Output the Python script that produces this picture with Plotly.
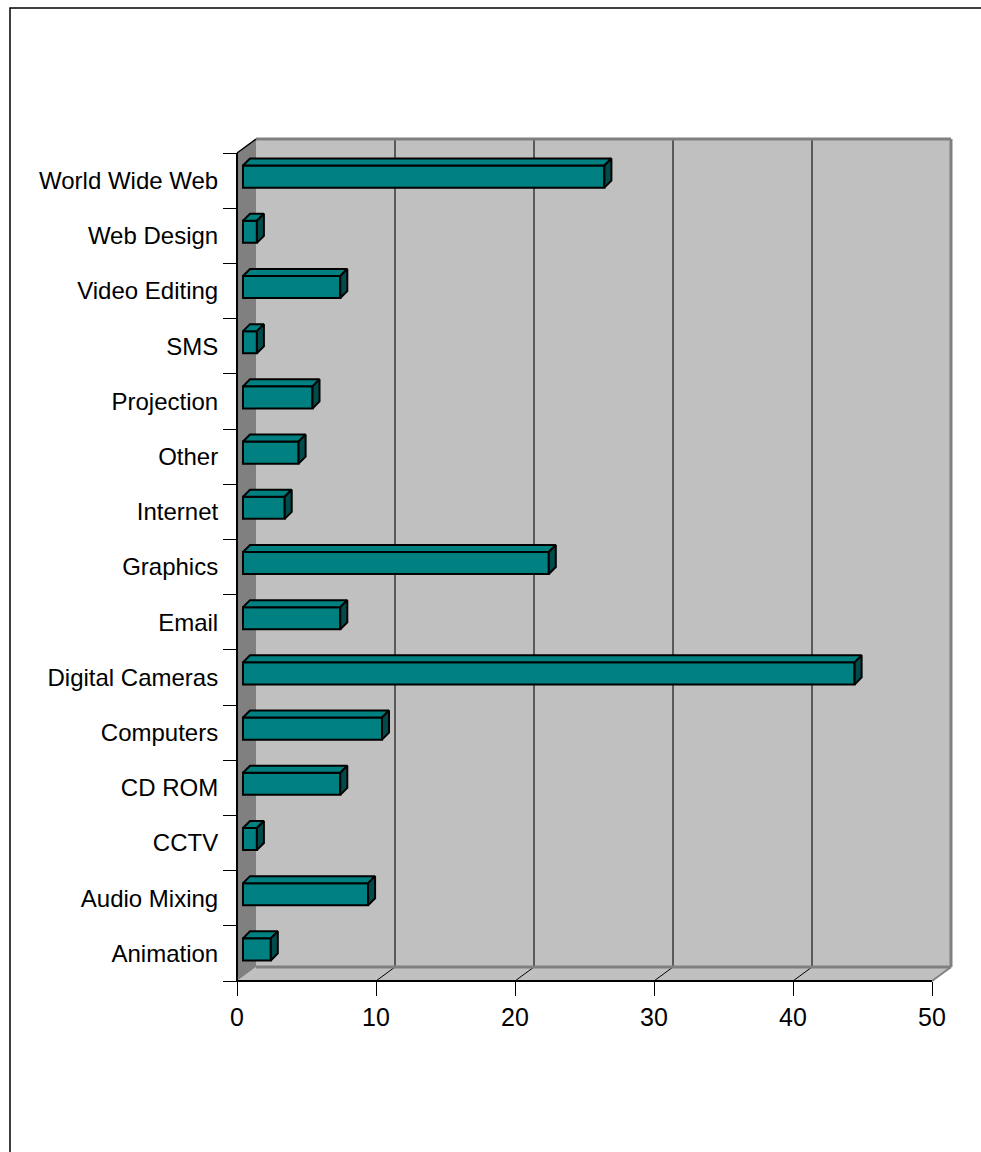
import plotly.graph_objects as go

# ---- data -------------------------------------------------------------
categories = [
    "Animation", "Audio Mixing", "CCTV", "CD ROM", "Computers",
    "Digital Cameras", "Email", "Graphics", "Internet", "Other",
    "Projection", "SMS", "Video Editing", "Web Design", "World Wide Web",
]
counts = [2, 9, 1, 7, 10, 44, 7, 22, 3, 4, 5, 1, 7, 1, 26]
x_ticks = [0, 10, 20, 30, 40, 50]

# ---- page / frame geometry (pixels) -----------------------------------
W, H = 981, 1152
X0, XS = 237, 13.9        # pixel of value 0 on front plane, pixels per unit
Y0, YS = 981, 55.2        # pixel of the floor front edge, pixels per category
DEPTH_PX = (19, 14)       # back wall offset (right, up)
BAR_FRONT_PX = (6, 4)     # bar front plane offset
BAR_DEPTH_PX = (7, 7)     # bar thickness in depth
BAR_WIDTH = 0.4           # fraction of a category band (gap width 150%)

XMAX = x_ticks[-1]
NCAT = len(categories)

xrange_ = [(0 - X0) / XS, (W - X0) / XS]
yrange_ = [(Y0 - H) / YS, Y0 / YS]

def dx(px):
    return px / XS

def dy(px):
    return px / YS

wdx, wdy = dx(DEPTH_PX[0]), dy(DEPTH_PX[1])

WALL = "#C0C0C0"
SIDE_WALL = "#808080"
EDGE = "#808080"
GRID = "#5A5A5A"
TEAL = "#008080"
TEAL_DARK = "#004C4C"

shapes = []

def poly(pts, fill, line_color=None, width=0):
    path = "M " + " L ".join(f"{x},{y}" for x, y in pts) + " Z"
    shapes.append(dict(type="path", path=path, xref="x", yref="y",
                       fillcolor=fill, layer="below",
                       line=dict(color=line_color or fill, width=width)))

def seg(p, q, color, width):
    shapes.append(dict(type="line", xref="x", yref="y", layer="below",
                       x0=p[0], y0=p[1], x1=q[0], y1=q[1],
                       line=dict(color=color, width=width)))

# back wall
poly([(wdx, wdy), (XMAX + wdx, wdy), (XMAX + wdx, NCAT + wdy), (wdx, NCAT + wdy)], WALL)
# floor
poly([(0, 0), (XMAX, 0), (XMAX + wdx, wdy), (wdx, wdy)], WALL)
# left side wall
poly([(0, 0), (0, NCAT), (wdx, NCAT + wdy), (wdx, wdy)], SIDE_WALL)

# vertical gridlines on the back wall + floor diagonals
for t in x_ticks[1:-1]:
    seg((t + wdx, wdy), (t + wdx, NCAT + wdy), GRID, 2)
    seg((t, 0), (t + wdx, wdy), "#000000", 1)

# wall edges
seg((wdx, NCAT + wdy), (XMAX + wdx, NCAT + wdy), EDGE, 3)
seg((XMAX + wdx, NCAT + wdy), (XMAX + wdx, wdy), EDGE, 3)
seg((wdx, wdy), (XMAX + wdx, wdy), EDGE, 3)
seg((XMAX, 0), (XMAX + wdx, wdy), EDGE, 2)
seg((0, NCAT), (wdx, NCAT + wdy), "#000000", 1.5)
# front axis lines
seg((0, 0), (0, NCAT), "#000000", 2)
seg((0, 0), (XMAX, 0), "#000000", 2)

# outer chart border
shapes.append(dict(type="rect", xref="paper", yref="paper", layer="below",
                   x0=10 / W, x1=(W + 20) / W, y0=-20 / H, y1=1 - 8 / H,
                   line=dict(color="#000000", width=1.5)))

# ---- bars --------------------------------------------------------------
bfx, bfy = dx(BAR_FRONT_PX[0]), dy(BAR_FRONT_PX[1])
bdx, bdy = dx(BAR_DEPTH_PX[0]), dy(BAR_DEPTH_PX[1])
centers = [i + 0.5 + bfy for i in range(NCAT)]

fig = go.Figure()

fig.add_trace(go.Bar(
    orientation="h", y=centers, x=counts, base=[bfx] * NCAT, width=BAR_WIDTH,
    marker=dict(color=TEAL, line=dict(color="#000000", width=2)),
    hoverinfo="skip", showlegend=False,
))

top_x, top_y, side_x, side_y = [], [], [], []
for c, v in zip(centers, counts):
    yt, yb = c + BAR_WIDTH / 2, c - BAR_WIDTH / 2
    x1 = bfx + v
    top_x += [bfx, x1, x1 + bdx, bfx + bdx, bfx, None]
    top_y += [yt, yt, yt + bdy, yt + bdy, yt, None]
    side_x += [x1, x1, x1 + bdx, x1 + bdx, x1, None]
    side_y += [yt, yb, yb + bdy, yt + bdy, yt, None]

fig.add_trace(go.Scatter(x=top_x, y=top_y, mode="lines", fill="toself",
                         fillcolor=TEAL, line=dict(color="#000000", width=2),
                         hoverinfo="skip", showlegend=False))
fig.add_trace(go.Scatter(x=side_x, y=side_y, mode="lines", fill="toself",
                         fillcolor=TEAL_DARK, line=dict(color="#000000", width=2),
                         hoverinfo="skip", showlegend=False))
# invisible trace bound to the label axis
fig.add_trace(go.Scatter(x=[None], y=[None], yaxis="y2", showlegend=False,
                         hoverinfo="skip"))

FONT = "Arial, Liberation Sans, sans-serif"

fig.update_layout(
    width=W, height=H, autosize=False,
    margin=dict(l=0, r=0, t=0, b=0),
    paper_bgcolor="#FFFFFF", plot_bgcolor="#FFFFFF",
    shapes=shapes,
    showlegend=False,
    xaxis=dict(range=xrange_, domain=[0, 1], anchor="free",
               position=(H - Y0) / H,
               tickmode="array", tickvals=x_ticks,
               ticks="outside", ticklen=14, tickwidth=1, tickcolor="#000000",
               showline=False, showgrid=False, zeroline=False,
               tickfont=dict(family=FONT, size=25, color="#000000")),
    yaxis=dict(range=yrange_, domain=[0, 1], anchor="free", position=X0 / W,
               tickmode="array", tickvals=list(range(NCAT + 1)),
               ticks="outside", ticklen=14, tickwidth=1, tickcolor="#000000",
               showticklabels=False,
               showline=False, showgrid=False, zeroline=False),
    yaxis2=dict(range=yrange_, domain=[0, 1], anchor="free", position=X0 / W,
                overlaying="y", side="left",
                tickmode="array", tickvals=[i + 0.5 for i in range(NCAT)],
                ticktext=categories,
                ticks="outside", ticklen=14, tickcolor="rgba(0,0,0,0)",
                showline=False, showgrid=False, zeroline=False,
                tickfont=dict(family=FONT, size=24, color="#000000")),
)

fig.write_html("out.html")
